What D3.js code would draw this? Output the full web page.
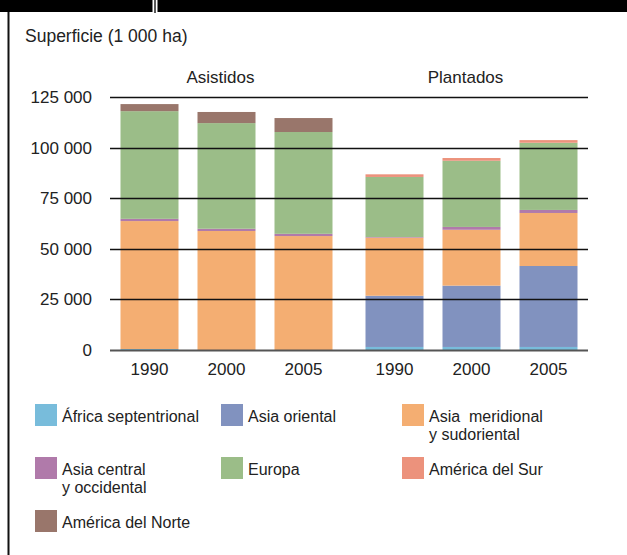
<!DOCTYPE html>
<html>
<head>
<meta charset="utf-8">
<script src="https://cdn.jsdelivr.net/npm/d3@7"></script>
<style>
  html, body { margin: 0; padding: 0; background: #fff; }
  svg { display: block; }
  text { font-family: "Liberation Sans", Arial, sans-serif; fill: #222; }
</style>
</head>
<body>
<svg id="chart" width="627" height="555"></svg>
<script>
// Forest area (1 000 ha) by region, for assisted and planted forests
const groups = ["Asistidos", "Plantados"];
const years = ["1990", "2000", "2005"];
const regions = [
  "África septentrional",
  "Asia oriental",
  "Asia  meridional\ny sudoriental",
  "Asia central\ny occidental",
  "Europa",
  "América del Sur",
  "América del Norte"
];
const colors = ["#78bcdb", "#8192bf", "#f4ae72", "#b07aaa", "#9bbd88", "#ec927c", "#99766b"];

// values per region: Asistidos 1990, 2000, 2005, then Plantados 1990, 2000, 2005
const africaSeptentrional = [500, 0, 0, 1500, 1500, 1500];
const asiaOriental        = [0, 0, 0, 25300, 30300, 40000];
const asiaMeridional      = [63200, 58800, 56300, 28700, 27600, 26200];
const asiaCentral         = [1100, 1100, 1100, 300, 1400, 1500];
const europa              = [53200, 52200, 50300, 29700, 32700, 33200];
const americaSur          = [0, 0, 0, 1300, 1350, 1300];
const americaNorte        = [3500, 5500, 6900, 0, 0, 0];

const yTicks = [0, 25000, 50000, 75000, 100000, 125000];
const tickLabels = ["0", "25 000", "50 000", "75 000", "100 000", "125 000"];

const series = [africaSeptentrional, asiaOriental, asiaMeridional, asiaCentral, europa, americaSur, americaNorte];

// one row per bar
const rows = [];
groups.forEach((g, gi) => {
  years.forEach((yr, yi) => {
    const row = { group: g, year: yr };
    regions.forEach((r, ri) => { row[r] = series[ri][gi * 3 + yi]; });
    rows.push(row);
  });
});

const svg = d3.select("#chart");

// frame: top band with a divider, left rule
svg.append("rect").attr("x", 0).attr("y", 0).attr("width", 627).attr("height", 12).attr("fill", "#000");
svg.append("rect").attr("x", 152.5).attr("y", 0).attr("width", 5).attr("height", 12).attr("fill", "#fff");
svg.append("line").attr("x1", 155).attr("x2", 155).attr("y1", 0).attr("y2", 13)
  .attr("stroke", "#222").attr("stroke-width", 1.5);
svg.append("line").attr("x1", 8.5).attr("x2", 8.5).attr("y1", 12).attr("y2", 555)
  .attr("stroke", "#111").attr("stroke-width", 2);

svg.append("text").attr("x", 25).attr("y", 42).attr("font-size", 17.5).text("Superficie (1 000 ha)");

const y = d3.scaleLinear().domain([0, 125000]).range([350, 97]);
const x0 = d3.scaleBand().domain(groups).range([104, 594]);
const x1 = d3.scaleBand().domain(years).range([0, x0.bandwidth()])
  .paddingInner(19 / 77).paddingOuter(0.2143);

const stack = d3.stack().keys(regions);
const stacked = stack(rows);

const color = d3.scaleOrdinal().domain(regions).range(colors);

const barsG = svg.append("g");
barsG.selectAll("g.layer")
  .data(stacked)
  .join("g")
  .attr("class", "layer")
  .attr("fill", d => color(d.key))
  .selectAll("rect")
  .data(d => d)
  .join("rect")
  .attr("x", d => x0(d.data.group) + x1(d.data.year))
  .attr("width", x1.bandwidth())
  .attr("y", d => y(d[1]))
  .attr("height", d => y(d[0]) - y(d[1]));

// horizontal gridlines drawn over the bars
const yAxis = d3.axisLeft(y).tickValues(yTicks).tickSize(0).tickPadding(0)
  .tickFormat((d, i) => tickLabels[i]);
const axisG = svg.append("g").attr("transform", "translate(92,0)").call(yAxis);
axisG.select(".domain").remove();
axisG.selectAll("text").attr("font-size", 17).attr("fill", "#222")
  .attr("font-family", "Liberation Sans, Arial, sans-serif");

svg.append("g").selectAll("line")
  .data(yTicks)
  .join("line")
  .attr("x1", 110).attr("x2", 588)
  .attr("y1", d => Math.round(y(d)) + 0.5).attr("y2", d => Math.round(y(d)) + 0.5)
  .attr("stroke", d => d === 0 ? "#555" : "#111")
  .attr("stroke-width", d => d === 0 ? 2 : 1.3);

// year labels under each bar
svg.append("g").selectAll("text")
  .data(rows)
  .join("text")
  .attr("x", d => x0(d.group) + x1(d.year) + x1.bandwidth() / 2)
  .attr("y", 375)
  .attr("text-anchor", "middle")
  .attr("font-size", 17)
  .text(d => d.year);

// group labels above
svg.append("g").selectAll("text")
  .data(groups)
  .join("text")
  .attr("x", d => x0(d) + x0.bandwidth() / 2 - 6)
  .attr("y", 83)
  .attr("text-anchor", "middle")
  .attr("font-size", 17)
  .text(d => d);

// legend: three columns
const legendCols = [35, 221, 402];
const legendRows = [404, 457, 510];
const legend = svg.append("g").selectAll("g")
  .data(regions)
  .join("g")
  .attr("transform", (d, i) => `translate(${legendCols[i % 3]},${legendRows[Math.floor(i / 3)]})`);
legend.append("rect").attr("width", 22).attr("height", 22).attr("fill", d => color(d));
legend.append("text")
  .attr("x", 27).attr("y", 17.5)
  .attr("font-size", 16)
  .style("white-space", "pre")
  .selectAll("tspan")
  .data(d => d.split("\n"))
  .join("tspan")
  .attr("x", 27)
  .attr("dy", (d, i) => i === 0 ? 0 : 18.5)
  .text(d => d);
</script>
</body>
</html>
